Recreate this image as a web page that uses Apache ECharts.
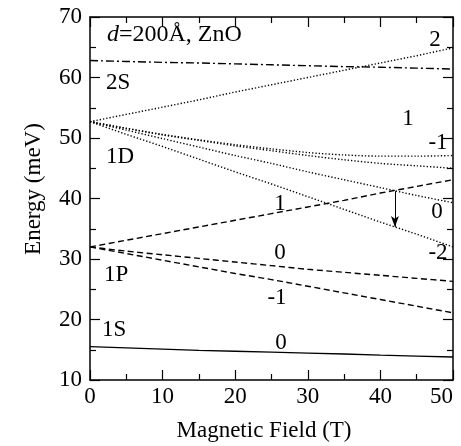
<!DOCTYPE html>
<html>
<head>
<meta charset="utf-8">
<script src="https://cdn.jsdelivr.net/npm/echarts@6/dist/echarts.min.js"></script>
<style>
  html, body { margin: 0; padding: 0; background: #fff; }
  #main { width: 461px; height: 446px; }
</style>
</head>
<body>
<div id="main"></div>
<script>
// 磁场 (T)
const fieldB = [0, 5, 10, 15, 20, 25, 30, 35, 40, 45, 50]

// 能级 (meV)
const e1S = [15.5, 15.3, 15.1, 14.9, 14.75, 14.6, 14.45, 14.3, 14.1, 13.95, 13.8]
const e1Pp1 = [32.0, 33.1, 34.2, 35.3, 36.4, 37.5, 38.6, 39.7, 40.9, 42.0, 43.1]
const e1P0 = [32.0, 31.3, 30.7, 30.1, 29.5, 28.9, 28.3, 27.8, 27.3, 26.8, 26.3]
const e1Pm1 = [32.0, 30.9, 29.8, 28.7, 27.6, 26.6, 25.5, 24.4, 23.3, 22.2, 21.1]
const e1Dp2 = [52.7, 53.9, 55.1, 56.3, 57.6, 58.8, 60.0, 61.2, 62.4, 63.6, 64.9]
const e1Dp1 = [52.7, 51.6, 50.6, 49.7, 48.9, 48.2, 47.6, 47.2, 47.0, 47.0, 47.1]
const e1Dm1 = [52.7, 51.6, 50.5, 49.6, 48.7, 47.9, 47.1, 46.4, 45.8, 45.4, 45.0]
const e1D0 = [52.7, 51.3, 49.9, 48.5, 47.1, 45.8, 44.4, 43.1, 41.8, 40.5, 39.3]
const e1Dm2 = [52.7, 50.6, 48.6, 46.5, 44.4, 42.4, 40.3, 38.2, 36.1, 34.1, 32.0]
const e2S = [62.8, 62.65, 62.5, 62.4, 62.25, 62.1, 61.95, 61.8, 61.7, 61.55, 61.4]

// 箭头 (跃迁)
const arrowB = 42
const arrowFrom = 41.2
const arrowTo = 35.3

const font = 'Liberation Serif, Times New Roman, serif'

const pairs = arr => fieldB.map((b, i) => [b, arr[i]])

// 线型
function lineSeries(name, arr, type, smooth) {
  return {
    name: name,
    type: 'line',
    data: pairs(arr),
    showSymbol: false,
    smooth: smooth || false,
    lineStyle: { color: '#000', width: type === 'solid' ? 1.3 : 1.4, type: type }
  }
}

const dotted = [1.3, 2]
const dashed = [6, 3.5]
const dashDot = [8, 3, 2, 3]

const myChart = echarts.init(document.querySelector('#main'))

const xBase = {
  type: 'value',
  min: 0,
  max: 50,
  interval: 10,
  axisLine: { onZero: false, lineStyle: { color: '#000', width: 1.5 } },
  axisTick: { inside: true, length: 10, lineStyle: { color: '#000', width: 1.2 } },
  minorTick: { show: true, splitNumber: 2, length: 6, lineStyle: { color: '#000', width: 1.2 } },
  splitLine: { show: false }
}
const yBase = {
  type: 'value',
  min: 10,
  max: 70,
  interval: 10,
  axisLine: { onZero: false, lineStyle: { color: '#000', width: 1.5 } },
  axisTick: { inside: true, length: 10, lineStyle: { color: '#000', width: 1.2 } },
  minorTick: { show: true, splitNumber: 2, length: 6, lineStyle: { color: '#000', width: 1.2 } },
  splitLine: { show: false }
}

// 文字标注
const labels = [
  { text: '2S', x: 106, y: 83, align: 'left' },
  { text: '1D', x: 106, y: 157, align: 'left' },
  { text: '1P', x: 104, y: 275, align: 'left' },
  { text: '1S', x: 102, y: 330, align: 'left' },
  { text: '2', x: 435, y: 40 },
  { text: '1', x: 408, y: 119 },
  { text: '-1', x: 438, y: 143 },
  { text: '0', x: 437, y: 212 },
  { text: '-2', x: 438, y: 253 },
  { text: '1', x: 280, y: 204 },
  { text: '0', x: 280, y: 253 },
  { text: '-1', x: 277, y: 298 },
  { text: '0', x: 281, y: 343 }
]

const option = {
  animation: false,
  grid: { left: 90, right: 8, top: 17, bottom: 66 },
  xAxis: [
    Object.assign({}, xBase, {
      position: 'bottom',
      axisLabel: { color: '#000', fontFamily: font, fontSize: 23, margin: 5, alignMaxLabel: 'right' }
    }),
    Object.assign({}, xBase, { position: 'top', axisLabel: { show: false } })
  ],
  yAxis: [
    Object.assign({}, yBase, {
      position: 'left',
      axisLabel: { color: '#000', fontFamily: font, fontSize: 23, margin: 8 }
    }),
    Object.assign({}, yBase, { position: 'right', axisLabel: { show: false } })
  ],
  series: [
    lineSeries('1S 0', e1S, 'solid'),
    lineSeries('1P 1', e1Pp1, dashed),
    lineSeries('1P 0', e1P0, dashed, 0.3),
    lineSeries('1P -1', e1Pm1, dashed),
    lineSeries('1D 2', e1Dp2, dotted),
    lineSeries('1D 1', e1Dp1, dotted, 0.3),
    lineSeries('1D -1', e1Dm1, dotted, 0.3),
    lineSeries('1D 0', e1D0, dotted, 0.3),
    Object.assign(lineSeries('1D -2', e1Dm2, dotted), {
      markLine: {
        silent: true,
        symbol: ['none', 'arrow'],
        symbolSize: [6, 11],
        label: { show: false },
        lineStyle: { color: '#000', width: 1, type: 'solid' },
        data: [[{ coord: [arrowB, arrowFrom] }, { coord: [arrowB, arrowTo] }]]
      }
    }),
    lineSeries('2S', e2S, dashDot)
  ],
  graphic: [
    {
      type: 'text',
      left: 107,
      top: 23,
      style: {
        text: '{i|d}=200Å, ZnO',
        fill: '#000',
        font: '24px ' + font,
        rich: { i: { fontStyle: 'italic', fontFamily: font, fontSize: 24 } }
      }
    },
    {
      type: 'text',
      x: 34,
      y: 189,
      rotation: Math.PI / 2,
      style: {
        text: 'Energy (meV)',
        fill: '#000',
        font: '23px ' + font,
        textAlign: 'center',
        textVerticalAlign: 'middle'
      }
    },
    {
      type: 'text',
      x: 264,
      y: 431,
      style: {
        text: 'Magnetic Field (T)',
        fill: '#000',
        font: '23px ' + font,
        textAlign: 'center',
        textVerticalAlign: 'middle'
      }
    }
  ].concat(labels.map(l => ({
    type: 'text',
    x: l.x,
    y: l.y,
    style: {
      text: l.text,
      fill: '#000',
      font: '23px ' + font,
      textAlign: l.align || 'center',
      textVerticalAlign: 'middle'
    }
  })))
}

myChart.setOption(option)
</script>
</body>
</html>
